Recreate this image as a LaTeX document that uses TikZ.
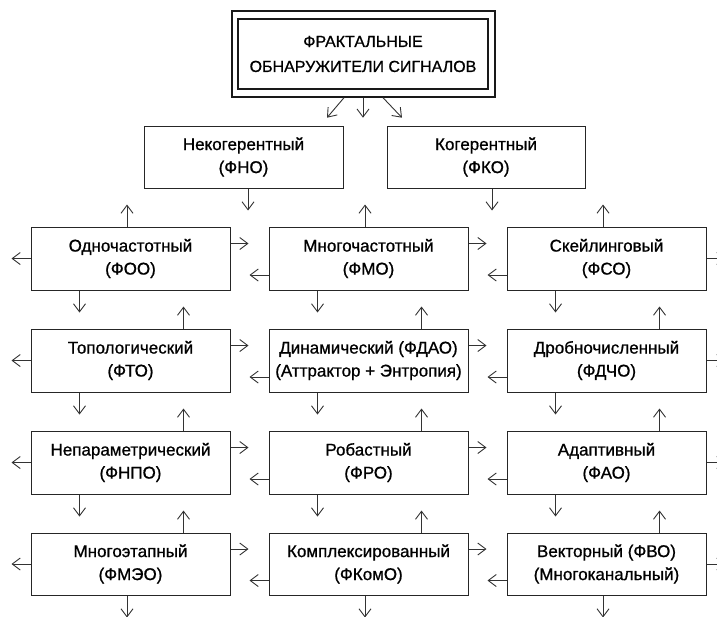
\documentclass[tikz,border=0pt]{standalone}
\usepackage{fontspec}
\setmainfont[FakeBold=0.9,AutoFakeBold=0.9]{Liberation Sans}
\usetikzlibrary{arrows.meta,calc}
\begin{document}
\begin{tikzpicture}[x=1pt,y=-1pt,
  box/.style={draw=black!85,line width=1pt,minimum width=199pt,minimum height=63pt,align=center,inner sep=0pt,font=\fontsize{17}{23}\selectfont\bfseries},
  arr/.style={draw=black!80,line width=0.9pt,-{Straight Barb[length=8pt,width=12pt]}}]
\useasboundingbox (0,0) rectangle (717,616);
% title
\node[draw=black!90,line width=1.4pt,minimum width=263pt,minimum height=86pt,inner sep=0pt] (tf) at (363.5,54) {};
\node[draw=black!90,line width=1.8pt,minimum width=250pt,minimum height=70pt,inner sep=0pt,align=center,font=\fontsize{16}{25}\selectfont\bfseries] (t) at (363,54) {ФРАКТАЛЬНЫЕ\\ОБНАРУЖИТЕЛИ СИГНАЛОВ};
% level 1
\node[box,minimum height=62pt] (fno) at (243.5,157) {Некогерентный\\(ФНО)};
\node[box,minimum height=62pt,minimum width=198pt] (fko) at (486,157) {Когерентный\\(ФКО)};
% grid
\node[box] (foo)   at (130.5,258.5) {Одночастотный\\(ФОО)};
\node[box] (fmo)   at (368.5,258.5) {Многочастотный\\(ФМО)};
\node[box] (fso)   at (606.5,258.5) {Скейлинговый\\(ФСО)};
\node[box] (fto)   at (130.5,360.5) {Топологический\\(ФТО)};
\node[box] (fdao)  at (368.5,360.5) {Динамический (ФДАО)\\(Аттрактор + Энтропия)};
\node[box] (fdcho) at (606.5,360.5) {Дробночисленный\\(ФДЧО)};
\node[box] (fnpo)  at (130.5,462.5) {Непараметрический\\(ФНПО)};
\node[box] (fro)   at (368.5,462.5) {Робастный\\(ФРО)};
\node[box] (fao)   at (606.5,462.5) {Адаптивный\\(ФАО)};
\node[box,minimum height=62pt] (fmeo)  at (130.5,564) {Многоэтапный\\(ФМЭО)};
\node[box,minimum height=62pt] (fkomo) at (368.5,564) {Комплексированный\\(ФКомО)};
\node[box,minimum height=62pt] (fvo)   at (606.5,564) {Векторный (ФВО)\\(Многоканальный)};
% title arrows
\draw[arr] ($(tf.south)+(-19.5,0)$) -- ++(-17,20);
\draw[arr] ($(tf.south)+(-0.5,0)$) -- ++(0,20);
\draw[arr] ($(tf.south)+(19.5,0)$) -- ++(19,20);
% level 1 arrows
\draw[arr] ($(fno.south)+(4.5,0)$) -- ++(0,22);
\draw[arr] ($(fko.south)+(6,0)$) -- ++(0,22);
% up arrows
\foreach \n in {foo,fmo,fso}
  \draw[arr] ($(\n.north)+(-3.5,0)$) -- ++(0,-22);
\foreach \n in {fto,fdao,fdcho,fnpo,fro,fao,fmeo,fkomo,fvo}
  \draw[arr] ($(\n.north)+(53,0)$) -- ++(0,-22);
% down arrows
\foreach \n in {foo,fmo,fso,fto,fdao,fdcho,fnpo,fro,fao}
  \draw[arr] ($(\n.south)+(-51,0)$) -- ++(0,22);
\foreach \n in {fmeo,fkomo,fvo}
  \draw[arr] ($(\n.south)+(-3.5,0)$) -- ++(0,22);
% outer stubs
\foreach \n in {foo,fto,fnpo,fmeo}
  \draw[arr] (\n.west) -- ++(-19,0);
\foreach \n in {fso,fdcho,fao,fvo}
  \draw[arr] (\n.east) -- ++(19,0);
% between columns
\foreach \a/\b in {foo/fmo,fmo/fso,fto/fdao,fdao/fdcho,fnpo/fro,fro/fao,fmeo/fkomo,fkomo/fvo}{
  \draw[arr] ($(\a.east)+(0,-15)$) -- ++(18,0);
  \draw[arr] ($(\b.west)+(0,16.5)$) -- ++(-19,0);
}
\end{tikzpicture}
\end{document}
